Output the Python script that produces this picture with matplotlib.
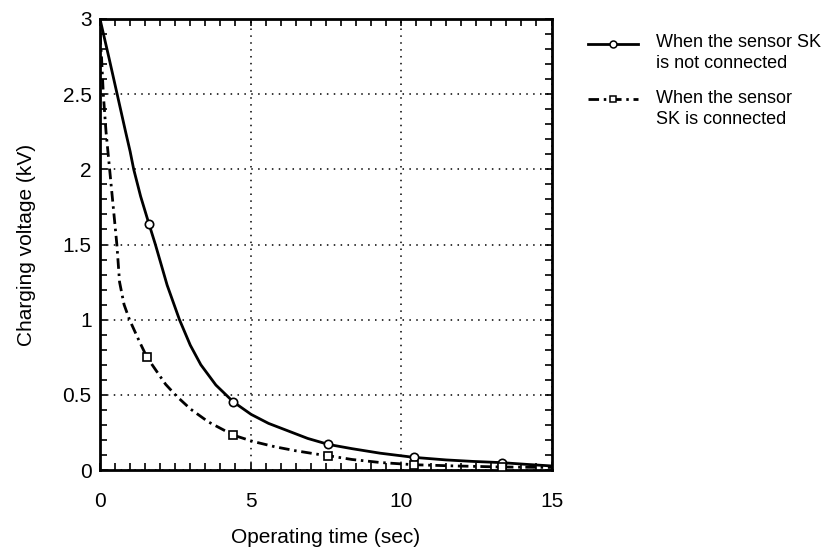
import matplotlib.pyplot as plt
import matplotlib.ticker as ticker
from matplotlib.lines import Line2D

plt.rcParams['font.family'] = ['Liberation Sans', 'DejaVu Sans']

## data ##
# sensor SK not connected (solid curve)
t_off = [0, 0.3, 0.57, 0.85, 1.0, 1.12, 1.35, 1.63, 1.84, 2.23, 2.64, 3.0, 3.35, 3.85, 4.43, 5.02, 5.6, 6.25,
         6.9, 7.59, 8.37, 9.3, 10.43, 11.5, 12.4, 13.34, 14.2, 15.0]
v_off = [3.0, 2.74, 2.5, 2.25, 2.12, 2.0, 1.82, 1.635, 1.5, 1.23, 1.0, 0.83, 0.70, 0.565, 0.453, 0.37, 0.31, 0.26,
         0.21, 0.17, 0.142, 0.112, 0.084, 0.067, 0.057, 0.049, 0.037, 0.027]
t_off_mk = [1.63, 4.43, 7.59, 10.43, 13.34]
v_off_mk = [1.635, 0.453, 0.17, 0.084, 0.049]

# sensor SK connected (dash-dot curve)
t_on = [0, 0.05, 0.11, 0.2, 0.32, 0.44, 0.56, 0.65, 0.8, 0.98, 1.32, 1.56, 2.18, 2.55, 3.01, 3.6, 4.43, 5.08,
        5.8, 6.5, 7.25, 7.59, 8.37, 9.3, 10.43, 11.8, 13.34, 15.0]
v_on = [2.9, 2.75, 2.5, 2.25, 2.0, 1.75, 1.5, 1.25, 1.1, 1.0, 0.85, 0.75, 0.57, 0.49, 0.405, 0.32, 0.232, 0.19,
        0.155, 0.128, 0.104, 0.095, 0.07, 0.05, 0.035, 0.027, 0.02, 0.017]
t_on_mk = [1.56, 4.43, 7.59, 10.43, 13.34]
v_on_mk = [0.75, 0.232, 0.095, 0.033, 0.02]

labels = ['When the sensor SK\nis not connected', 'When the sensor\nSK is connected']

## plotting ##
W, H = 834, 547
dashdot = (0, (3.8, 1.7, 0.9, 1.7))

fig = plt.figure(figsize=(W / 100, H / 100), dpi=100)
ax = fig.add_axes([100 / W, 1 - 470 / H, 451.5 / W, 451 / H])

ax.plot(t_off, v_off, color='black', lw=2, zorder=3)
ax.plot(t_on, v_on, color='black', lw=2, ls=dashdot, zorder=3)
ax.plot(t_off_mk, v_off_mk, 'o', ms=6, mfc='white', mec='black', mew=1.2, zorder=4)
ax.plot(t_on_mk, v_on_mk, 's', ms=6, mfc='white', mec='black', mew=1.2, zorder=4)

ax.set_xlim(0, 15)
ax.set_ylim(0, 3)
ax.xaxis.set_major_locator(ticker.MultipleLocator(5))
ax.xaxis.set_minor_locator(ticker.MultipleLocator(0.5))
ax.yaxis.set_major_locator(ticker.MultipleLocator(0.5))
ax.yaxis.set_minor_locator(ticker.MultipleLocator(0.1))
ax.yaxis.set_major_formatter(ticker.FuncFormatter(lambda v, p: '%g' % v))
ax.tick_params(which='both', direction='in', top=True, right=True, width=1.2, length=5)
ax.tick_params(axis='x', which='major', labelsize=15, pad=16)
ax.tick_params(axis='y', which='major', labelsize=15, pad=6)
ax.grid(True, which='major', ls=(0, (1, 3.5)), color='black', lw=1.1)
for s in ax.spines.values():
    s.set_linewidth(2)

ax.set_xlabel('Operating time (sec)', fontsize=15, labelpad=12)
ax.set_ylabel('Charging voltage (kV)', fontsize=15, labelpad=19)

# legend, drawn by hand: handle sits level with the first text line
handles = [dict(ls='-', marker='o', y=44, ty=53), dict(ls=dashdot, marker='s', y=99, ty=109)]
for h, lab in zip(handles, labels):
    fig.add_artist(Line2D([588 / W, 638 / W], [1 - h['y'] / H] * 2, color='black', lw=2, ls=h['ls']))
    fig.add_artist(Line2D([613 / W], [1 - h['y'] / H], marker=h['marker'], ms=5, mfc='white',
                          mec='black', mew=1.1, ls='none'))
    fig.text(656 / W, 1 - h['ty'] / H, lab, fontsize=13, ha='left', va='center', linespacing=1.25)

plt.savefig('out.png', dpi=100)
